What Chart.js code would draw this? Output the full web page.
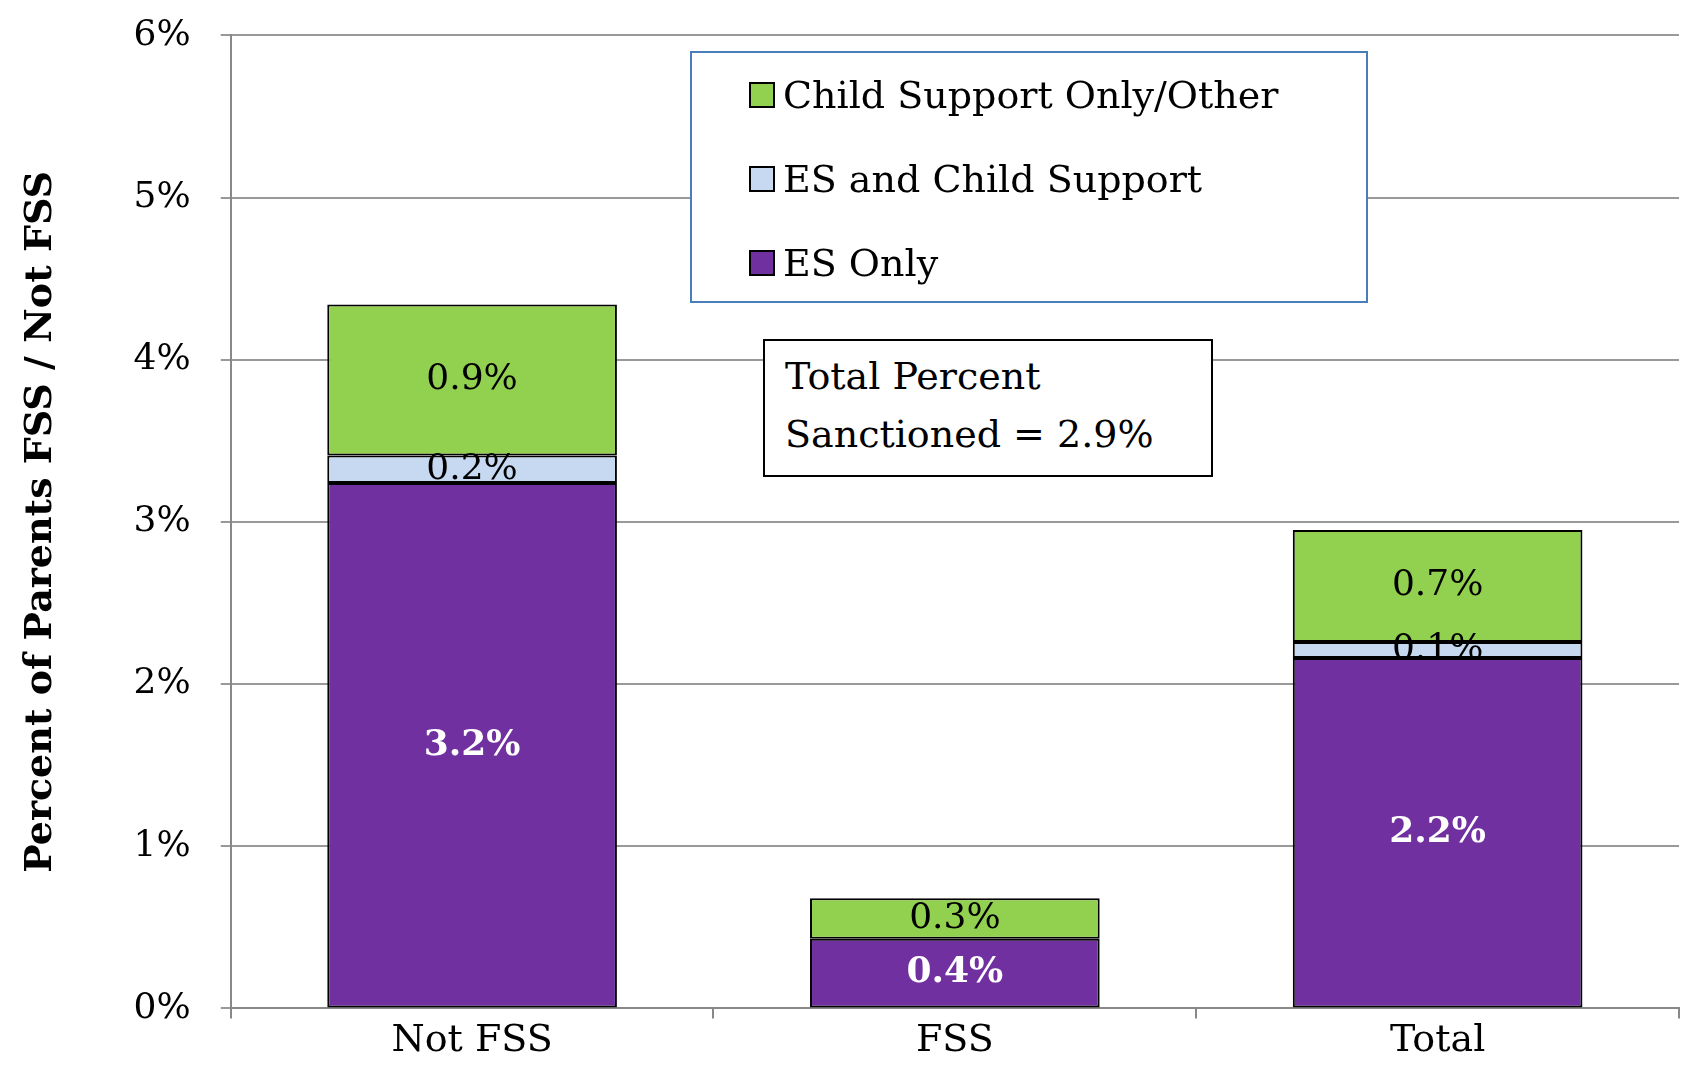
<!DOCTYPE html>
<html><head><meta charset="utf-8">
<script src="https://cdn.jsdelivr.net/npm/chart.js@4"></script>
<style>
body{margin:0;background:#fff;font-family:"DejaVu Serif",serif}
#wrap{position:relative;width:1683px;height:1072px}
.box{position:absolute;background:#fff;font-size:38px;color:#000}
</style></head><body>
<div id="wrap"><canvas id="c" width="1683" height="1072"></canvas>
<div class="box" style="left:690px;top:51px;width:674px;height:248px;border:2px solid #4a7ebb">
 <div style="position:absolute;left:57px;top:0px;line-height:84px">
  <div><span style="display:inline-block;width:22px;height:22px;background:#92d050;border:2px solid #000;margin-right:8px"></span>Child Support Only/Other</div>
  <div><span style="display:inline-block;width:22px;height:22px;background:#c6d9f1;border:2px solid #000;margin-right:8px"></span>ES and Child Support</div>
  <div><span style="display:inline-block;width:22px;height:22px;background:#7030a0;border:2px solid #000;margin-right:8px"></span>ES Only</div>
 </div></div>
<div class="box" style="left:763px;top:339px;width:446px;height:134px;border:2px solid #000;line-height:58px">
 <div style="padding:6px 0 0 20px">Total Percent<br>Sanctioned = 2.9%</div></div>
</div>
<script>
const categories = ["Not FSS", "FSS", "Total"];
const esOnly = [3.24, 0.43, 2.16];
const esAndCs = [0.17, 0, 0.1];
const csOther = [0.93, 0.25, 0.69];
const esOnlyLabels = ["3.2%", "0.4%", "2.2%"];
const esAndCsLabels = ["0.2%", "", "0.1%"];
const csOtherLabels = ["0.9%", "0.3%", "0.7%"];

// etiquettes au centre des segments
const labelPlugin = {
  id: "labels",
  afterDatasetsDraw(chart) {
    const c = chart.ctx;
    chart.data.datasets.forEach((ds, i) => {
      chart.getDatasetMeta(i).data.forEach((bar, j) => {
        const t = ds.labels[j];
        if (!t) return;
        c.save();
        c.font = (i === 0 ? "bold " : "") + "36px 'DejaVu Serif'";
        c.fillStyle = i === 0 ? "#fff" : "#000";
        c.textAlign = "center"; c.textBaseline = "middle";
        c.fillText(t, bar.x, (bar.y + bar.base) / 2);
        c.restore();
      });
    });
  }
};

new Chart(document.getElementById("c"), {
  type: "bar",
  data: {
    labels: categories,
    datasets: [
      { label: "ES Only", data: esOnly, labels: esOnlyLabels, backgroundColor: "#7030a0" },
      { label: "ES and Child Support", data: esAndCs, labels: esAndCsLabels, backgroundColor: "#c6d9f1" },
      { label: "Child Support Only/Other", data: csOther, labels: csOtherLabels, backgroundColor: "#92d050" }
    ].map(d => Object.assign(d, { borderColor: "#000", borderWidth: 2, borderSkipped: false,
      categoryPercentage: 1, barPercentage: 0.6 }))
  },
  options: {
    responsive: false, animation: false,
    layout: { padding: { top: 0, right: 4, bottom: 8, left: 14 } },
    plugins: { legend: { display: false }, tooltip: { enabled: false } },
    scales: {
      x: { stacked: true, grid: { offset: true, drawOnChartArea: false, tickLength: 10, color: "#888", lineWidth: 2 },
        border: { color: "#888", width: 2 },
        ticks: { color: "#000", padding: 0, font: { family: "DejaVu Serif", size: 38 } } },
      y: { stacked: true, min: 0, max: 6,
        grid: { color: "#999", lineWidth: 2, tickLength: 10 },
        border: { color: "#888", width: 2 },
        ticks: { stepSize: 1, color: "#000", padding: 30, callback: v => v + "%", font: { family: "DejaVu Serif", size: 36, lineHeight: 0.3 } },
        title: { display: true, text: "Percent of Parents FSS / Not FSS", color: "#000", padding: { bottom: 40 },
          font: { family: "DejaVu Serif", size: 38, weight: "bold" } } }
    }
  },
  plugins: [labelPlugin]
});
</script></body></html>
